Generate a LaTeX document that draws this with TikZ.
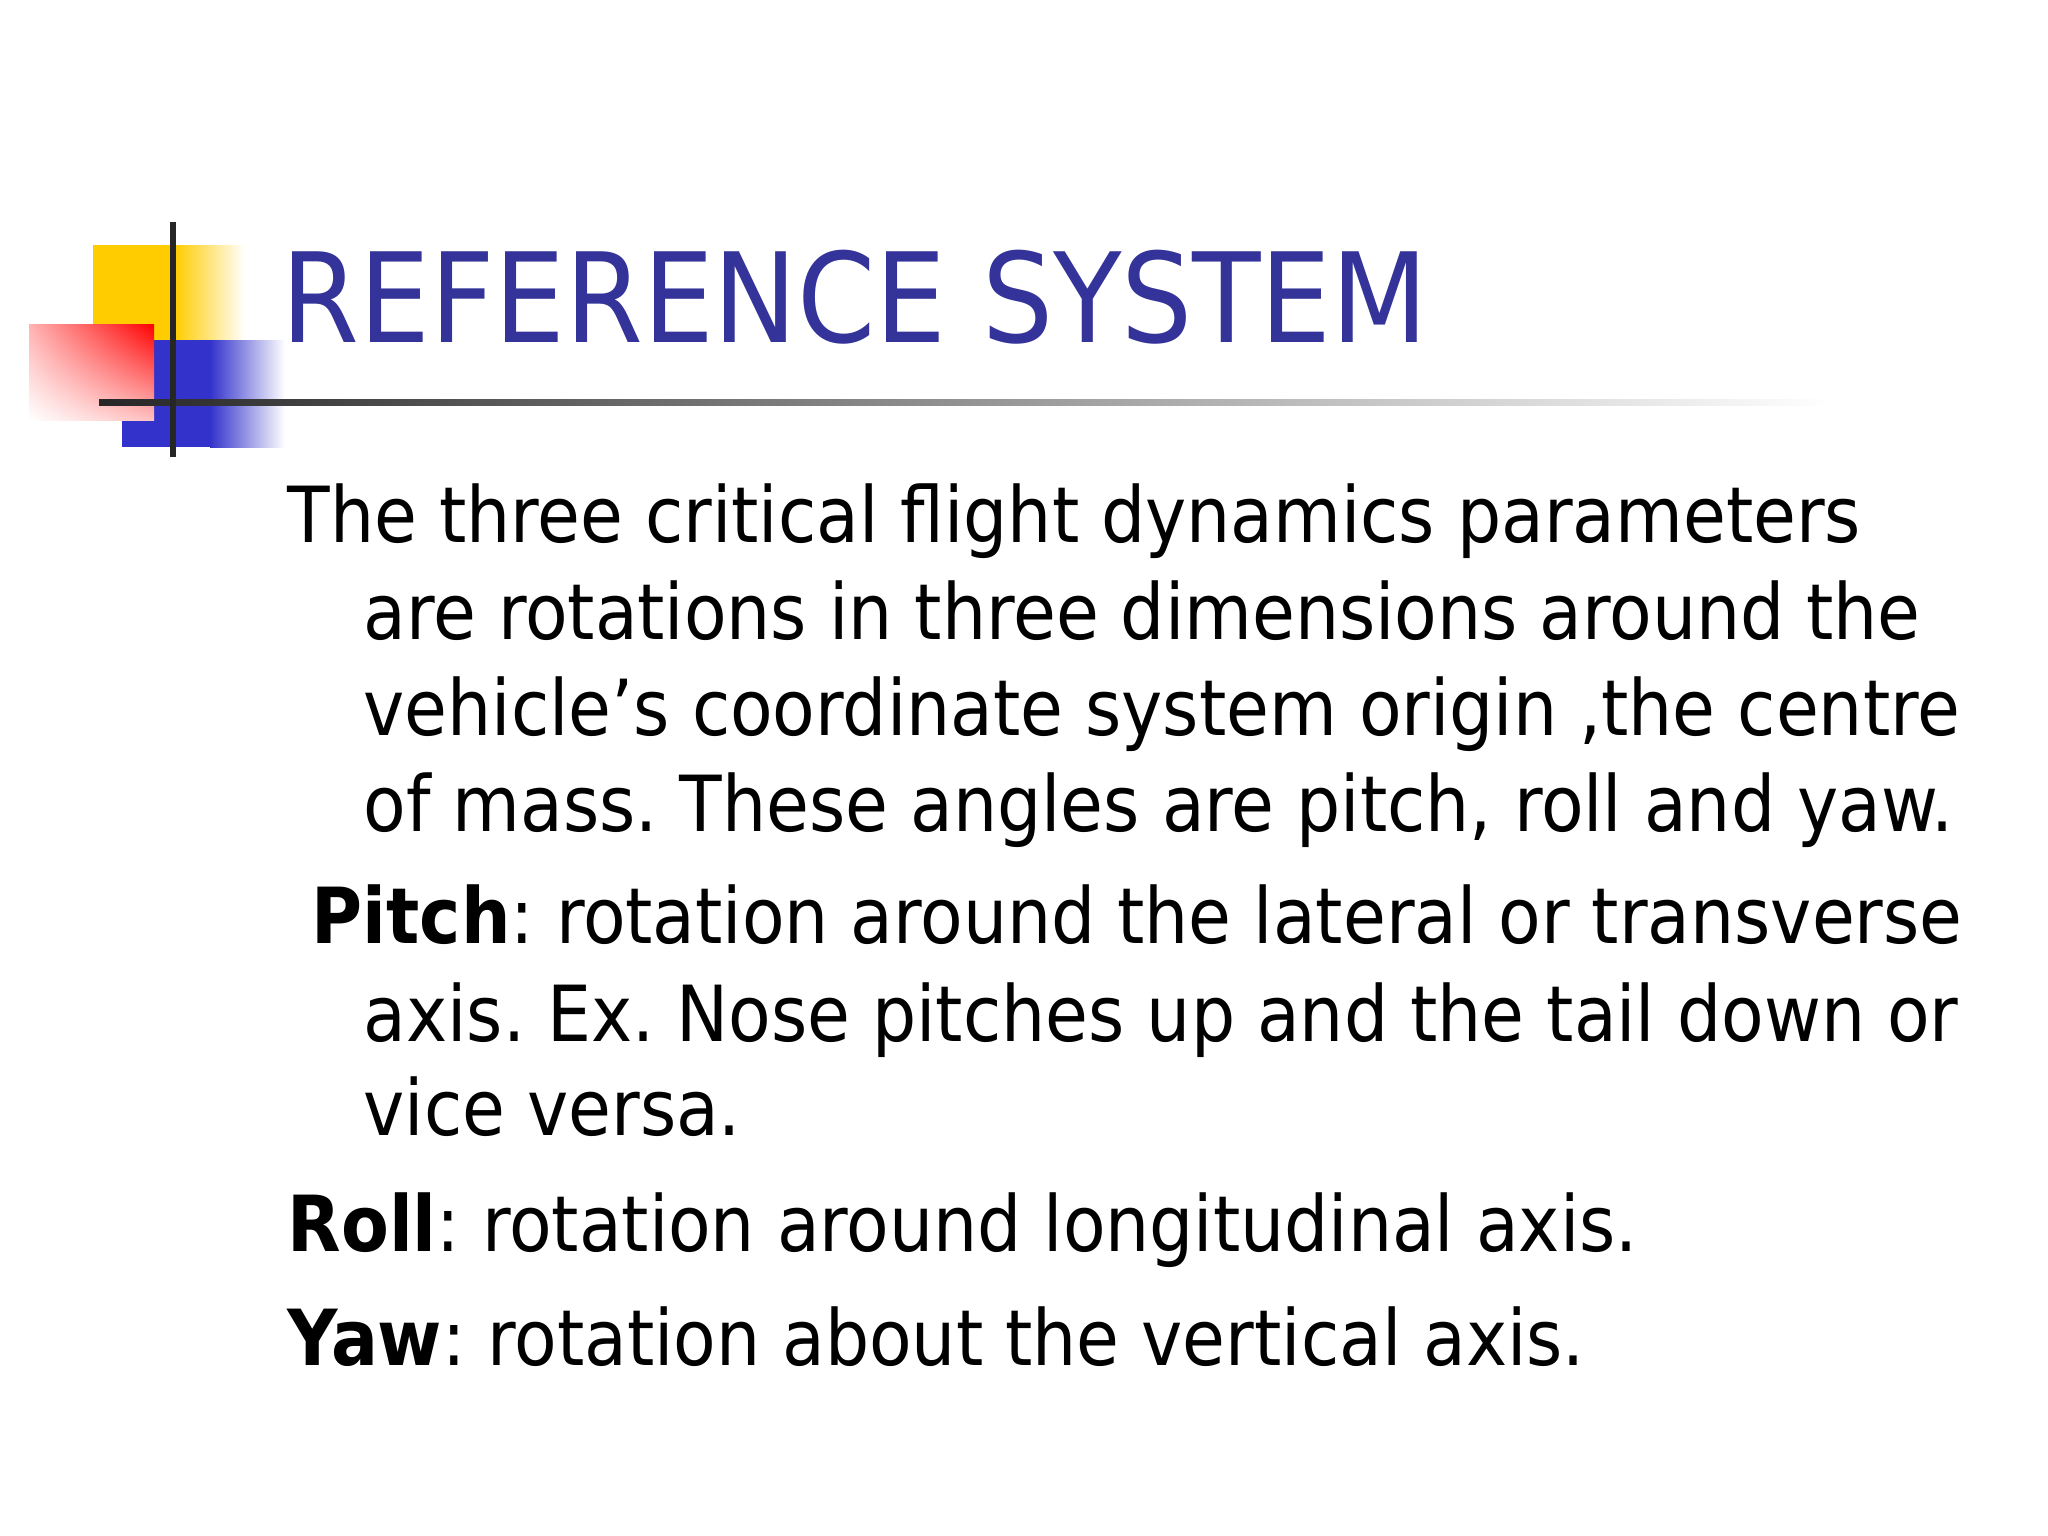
\documentclass[tikz,border=0pt]{standalone}
\usepackage{fontspec}
\usetikzlibrary{shadings}
\setmainfont{DejaVu Sans Condensed}
\definecolor{titleblue}{RGB}{51,51,153}
\definecolor{ybox}{RGB}{255,204,0}
\definecolor{bbox}{RGB}{51,51,204}
\frenchspacing
\begin{document}
\begin{tikzpicture}[x=0.01cm,y=-0.01cm,
  body/.style={anchor=base west,inner sep=0pt,font=\fontsize{22}{26}\selectfont},
  ttl/.style={anchor=base west,inner sep=0pt,font=\fontsize{35.4}{42}\selectfont,text=titleblue}]
\useasboundingbox (0,0) rectangle (2048,1536);
% logo
\fill[ybox] (93,245) rectangle (175,340);
\shade[left color=ybox,right color=white] (175,245) rectangle (245,340);
\fill[bbox] (122,340) rectangle (210,447);
\shade[left color=bbox,right color=white] (210,340) rectangle (285,447);
\shade[upper right=red,lower left=white,upper left=red!30,lower right=red!25] (29,324) rectangle (154,420);
\shade[left color=black!85,right color=white] (99,399) rectangle (1830,405);
\fill[black!85] (170,222) rectangle (176,457);
\node[ttl] (title) at (281,342) {REFERENCE SYSTEM};
\node[body] (l1) at (287,542) {The three critical flight dynamics parameters};
\node[body] (l2) at (363,639) {are rotations in three dimensions around the};
\node[body] (l3) at (363,735) {vehicle’s coordinate system origin ,the centre};
\node[body] (l4) at (363,831) {of mass. These angles are pitch, roll and yaw.};
\node[body] (p1) at (311,943) {\textbf{Pitch}: rotation around the lateral or transverse};
\node[body] (p2) at (363,1041) {axis. Ex. Nose pitches up and the tail down or};
\node[body] (p3) at (363,1135) {vice versa.};
\node[body] (r) at (287,1251) {\textbf{Roll}: rotation around longitudinal axis.};
\node[body] (y) at (287,1365) {\textbf{Yaw}: rotation about the vertical axis.};
\end{tikzpicture}
\end{document}
